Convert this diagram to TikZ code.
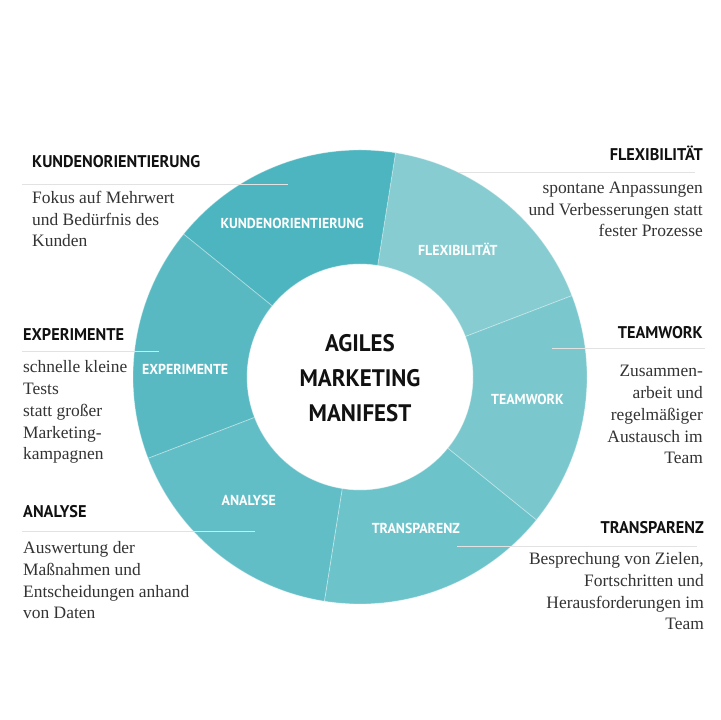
\documentclass[tikz,border=0pt]{standalone}
\usepackage{fontspec}
\setmainfont{Liberation Serif}
\newfontfamily\headfont{PT Sans}[FakeStretch=0.96]
\definecolor{kunden}{HTML}{4DB5BF}
\definecolor{flexi}{HTML}{87CCD1}
\definecolor{team}{HTML}{7AC8CD}
\definecolor{transp}{HTML}{6CC3CA}
\definecolor{analyse}{HTML}{62BEC6}
\definecolor{experi}{HTML}{59B9C2}
\definecolor{headblack}{HTML}{111111}
\definecolor{bodygray}{HTML}{333333}
\definecolor{rulegray}{HTML}{E2E2E2}
\begin{document}
\begin{tikzpicture}[x=1bp,y=1bp,
  seglabel/.style={text=white,font=\headfont\bfseries\fontsize{14.5}{16}\selectfont,inner sep=0},
  headline/.style={text=headblack,font=\headfont\bfseries\fontsize{17}{20}\selectfont,inner sep=0},
  bodytext/.style={text=bodygray,font=\fontsize{17.5}{22}\selectfont,inner sep=0},
  rule/.style={draw=rulegray,line width=1bp}]
\pgfmathsetmacro{\ro}{227};
\pgfmathsetmacro{\ri}{113};
\fill[white] (0,0) rectangle (720,720);
\useasboundingbox (0,0) rectangle (720,720);
% donut
\begin{scope}[shift={(360,343)}]
\foreach \a/\col in {21/flexi,81/kunden,141/experi,201/analyse,261/transp,321/team}{
  \filldraw[fill=\col,draw=white,draw opacity=0.35,line width=0.8bp]
    (\a:\ri) arc (\a:\a+60:\ri) -- (\a+60:\ro) arc (\a+60:\a:\ro) -- cycle;
}
\end{scope}
% rules under the headings
\coordinate (kunden-l) at (22,535);  \coordinate (kunden-r) at (288,535);
\coordinate (experi-l) at (22,368);  \coordinate (experi-r) at (159,368);
\coordinate (analyse-l) at (22,188); \coordinate (analyse-r) at (255,188);
\coordinate (flexi-l) at (458,547);  \coordinate (flexi-r) at (695,547);
\coordinate (team-l) at (552,371);   \coordinate (team-r) at (705,371);
\coordinate (transp-l) at (457,173); \coordinate (transp-r) at (697,173);
\foreach \s in {kunden,experi,analyse,flexi,team,transp}
  \draw[rule] (\s-l) -- (\s-r);
% labels in the ring
\begin{scope}[shift={(360,343)}]
\foreach \col/\lab/\pos in {flexi/FLEXIBILITÄT/{52.6:161},
  kunden/KUNDENORIENTIERUNG/{113.8:168},
  experi/EXPERIMENTE/{177.4:175},
  analyse/ANALYSE/{227.9:166},
  transp/TRANSPARENZ/{290.3:161},
  team/TEAMWORK/{352.2:169}}
  \node[seglabel] (seg-\col) at (\pos) {\lab};
\end{scope}
\node[text=headblack,font=\headfont\bfseries\fontsize{24}{35}\selectfont,align=center,inner sep=0]
  (manifest) at (360,342) {AGILES\\MARKETING\\MANIFEST};
% left side (base = last line)
\node[headline,anchor=base west] (kunden-head) at (32,552) {KUNDENORIENTIERUNG};
\node[bodytext,anchor=base west,align=left] (kunden-text) at (32,473)
  {Fokus auf Mehrwert\\und Bedürfnis des\\Kunden};
\node[headline,anchor=base west] (experi-head) at (23,379) {EXPERIMENTE};
\node[bodytext,anchor=base west,align=left] (experi-text) at (23,260)
  {schnelle kleine\\Tests\\statt großer\\Marketing-\\kampagnen};
\node[headline,anchor=base west] (analyse-head) at (23,202) {ANALYSE};
\node[bodytext,anchor=base west,align=left] (analyse-text) at (23,101)
  {Auswertung der\\Maßnahmen und\\Entscheidungen anhand\\von Daten};
% right side
\node[headline,anchor=base east] (flexi-head) at (703,559) {FLEXIBILITÄT};
\node[bodytext,anchor=base east,align=right] (flexi-text) at (703,483)
  {spontane Anpassungen\\und Verbesserungen statt\\fester Prozesse\hspace{4bp}};
\node[headline,anchor=base east] (team-head) at (703,381) {TEAMWORK};
\node[bodytext,anchor=base east,align=right] (team-text) at (703,256)
  {Zusammen-\\arbeit und\\regelmäßiger\\Austausch im\\Team};
\node[headline,anchor=base east] (transp-head) at (704,186) {TRANSPARENZ};
\node[bodytext,anchor=base east,align=right] (transp-text) at (704,90)
  {Besprechung von Zielen,\\Fortschritten und\\Herausforderungen im\\Team};
%\draw[red] (360,343) circle (2);
\end{tikzpicture}
\end{document}
